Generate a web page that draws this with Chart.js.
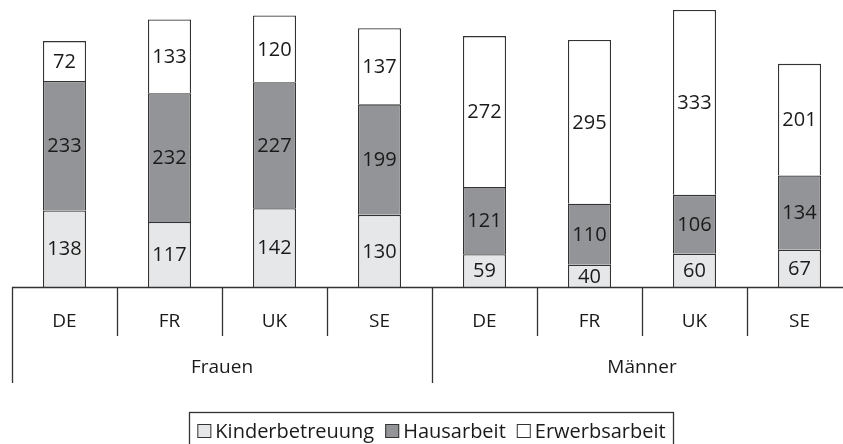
<!DOCTYPE html>
<html>
<head>
<meta charset="utf-8">
<script src="https://cdn.jsdelivr.net/npm/chart.js@4.4.0/dist/chart.umd.min.js"></script>
<style>
  html, body { margin: 0; padding: 0; background: #fff; overflow: hidden; }
  #wrap { width: 843px; height: 444px; overflow: hidden; }
</style>
</head>
<body>
<div id="wrap"><canvas id="myChart" width="862" height="444" style="width:862px;height:444px"></canvas></div>
<script>
// data
const countries = ["DE", "FR", "UK", "SE", "DE", "FR", "UK", "SE"];
const groups = ["Frauen", "Männer"];
const kinderbetreuung = [138, 117, 142, 130, 59, 40, 60, 67];
const hausarbeit = [233, 232, 227, 199, 121, 110, 106, 134];
const erwerbsarbeit = [72, 133, 120, 137, 272, 295, 333, 201];

const FONT = '"Open Sans", "DejaVu Sans", sans-serif';
const LINE = '#333';

// value labels inside segments + custom axis + legend
const drawExtras = {
  id: 'drawExtras',
  afterDatasetsDraw(chart) {
    const ctx = chart.ctx;
    ctx.save();
    ctx.fillStyle = '#1a1a1a';
    ctx.font = '20px ' + FONT;
    ctx.textAlign = 'center';
    ctx.textBaseline = 'middle';
    chart.data.datasets.forEach(function(ds, i) {
      chart.getDatasetMeta(i).data.forEach(function(bar, j) {
        ctx.fillText(ds.data[j], bar.x, (bar.y + bar.base) / 2 + 1);
      });
    });
    ctx.restore();
  },
  afterDraw(chart) {
    const ctx = chart.ctx;
    const area = chart.chartArea;
    const x = chart.scales.x;
    const n = countries.length;
    const step = (area.right - area.left) / n;
    const bottom = area.bottom;
    ctx.save();
    ctx.strokeStyle = LINE;
    ctx.lineWidth = 1.3;

    // base line
    ctx.beginPath();
    ctx.moveTo(area.left, bottom + 0.5);
    ctx.lineTo(chart.width, bottom + 0.5);
    ctx.stroke();

    // separators
    for (let i = 0; i < n; i++) {
      const sx = Math.round(area.left + i * step) + 0.5;
      const end = (i % 4 === 0) ? bottom + 96 : bottom + 49;
      ctx.beginPath();
      ctx.moveTo(sx, bottom);
      ctx.lineTo(sx, end);
      ctx.stroke();
    }

    // country labels
    ctx.fillStyle = '#1a1a1a';
    ctx.font = '19px ' + FONT;
    ctx.textAlign = 'center';
    ctx.textBaseline = 'middle';
    countries.forEach(function(c, i) {
      ctx.fillText(c, x.getPixelForValue(i), bottom + 35);
    });

    // group labels
    groups.forEach(function(g, k) {
      const gx = area.left + (k * 4 + 2) * step;
      ctx.fillText(g, gx, bottom + 81);
    });

    // legend
    const items = chart.data.datasets;
    ctx.font = '20px ' + FONT;
    ctx.textAlign = 'left';
    const box = 14, gap = 4, spacing = 11;
    let total = 0;
    const widths = items.map(function(ds) {
      const w = box + gap + ctx.measureText(ds.label).width;
      total += w;
      return w;
    });
    total += spacing * (items.length - 1);
    const lx0 = 431.5 - total / 2;
    const ly = 431;
    ctx.strokeStyle = LINE;
    ctx.lineWidth = 1.3;
    ctx.strokeRect(Math.round(lx0 - 8) + 0.5, 412.5, Math.round(total + 16), 40);
    let lx = lx0;
    items.forEach(function(ds, i) {
      ctx.fillStyle = ds.backgroundColor;
      ctx.fillRect(lx, ly - box / 2, box, box);
      ctx.lineWidth = 1;
      ctx.strokeRect(lx + 0.5, ly - box / 2 + 0.5, box - 1, box - 1);
      ctx.fillStyle = '#1a1a1a';
      ctx.fillText(ds.label, lx + box + gap, ly + 1);
      lx += widths[i] + spacing;
    });
    ctx.restore();
  }
};

const ctx = document.getElementById('myChart').getContext('2d');

const chart = new Chart(ctx, {
  type: 'bar',
  data: {
    labels: countries,
    datasets: [{
      label: "Kinderbetreuung",
      backgroundColor: '#e6e7e8',
      borderColor: LINE,
      borderWidth: 1.3,
      data: kinderbetreuung,
    },
    {
      label: "Hausarbeit",
      backgroundColor: '#939497',
      borderColor: LINE,
      borderWidth: 1.3,
      data: hausarbeit,
    },
    {
      label: "Erwerbsarbeit",
      backgroundColor: '#ffffff',
      borderColor: LINE,
      borderWidth: 1.3,
      data: erwerbsarbeit,
    }]
  },
  options: {
    responsive: false,
    animation: false,
    layout: { padding: { left: 12, right: 10, top: 0, bottom: 157 } },
    datasets: { bar: { categoryPercentage: 1, barPercentage: 0.41 } },
    scales: {
      x: { stacked: true, display: false },
      y: { stacked: true, display: false, min: 0, max: 517 }
    },
    plugins: {
      legend: { display: false },
      tooltip: { enabled: false }
    }
  },
  plugins: [drawExtras]
});
</script>
</body>
</html>
